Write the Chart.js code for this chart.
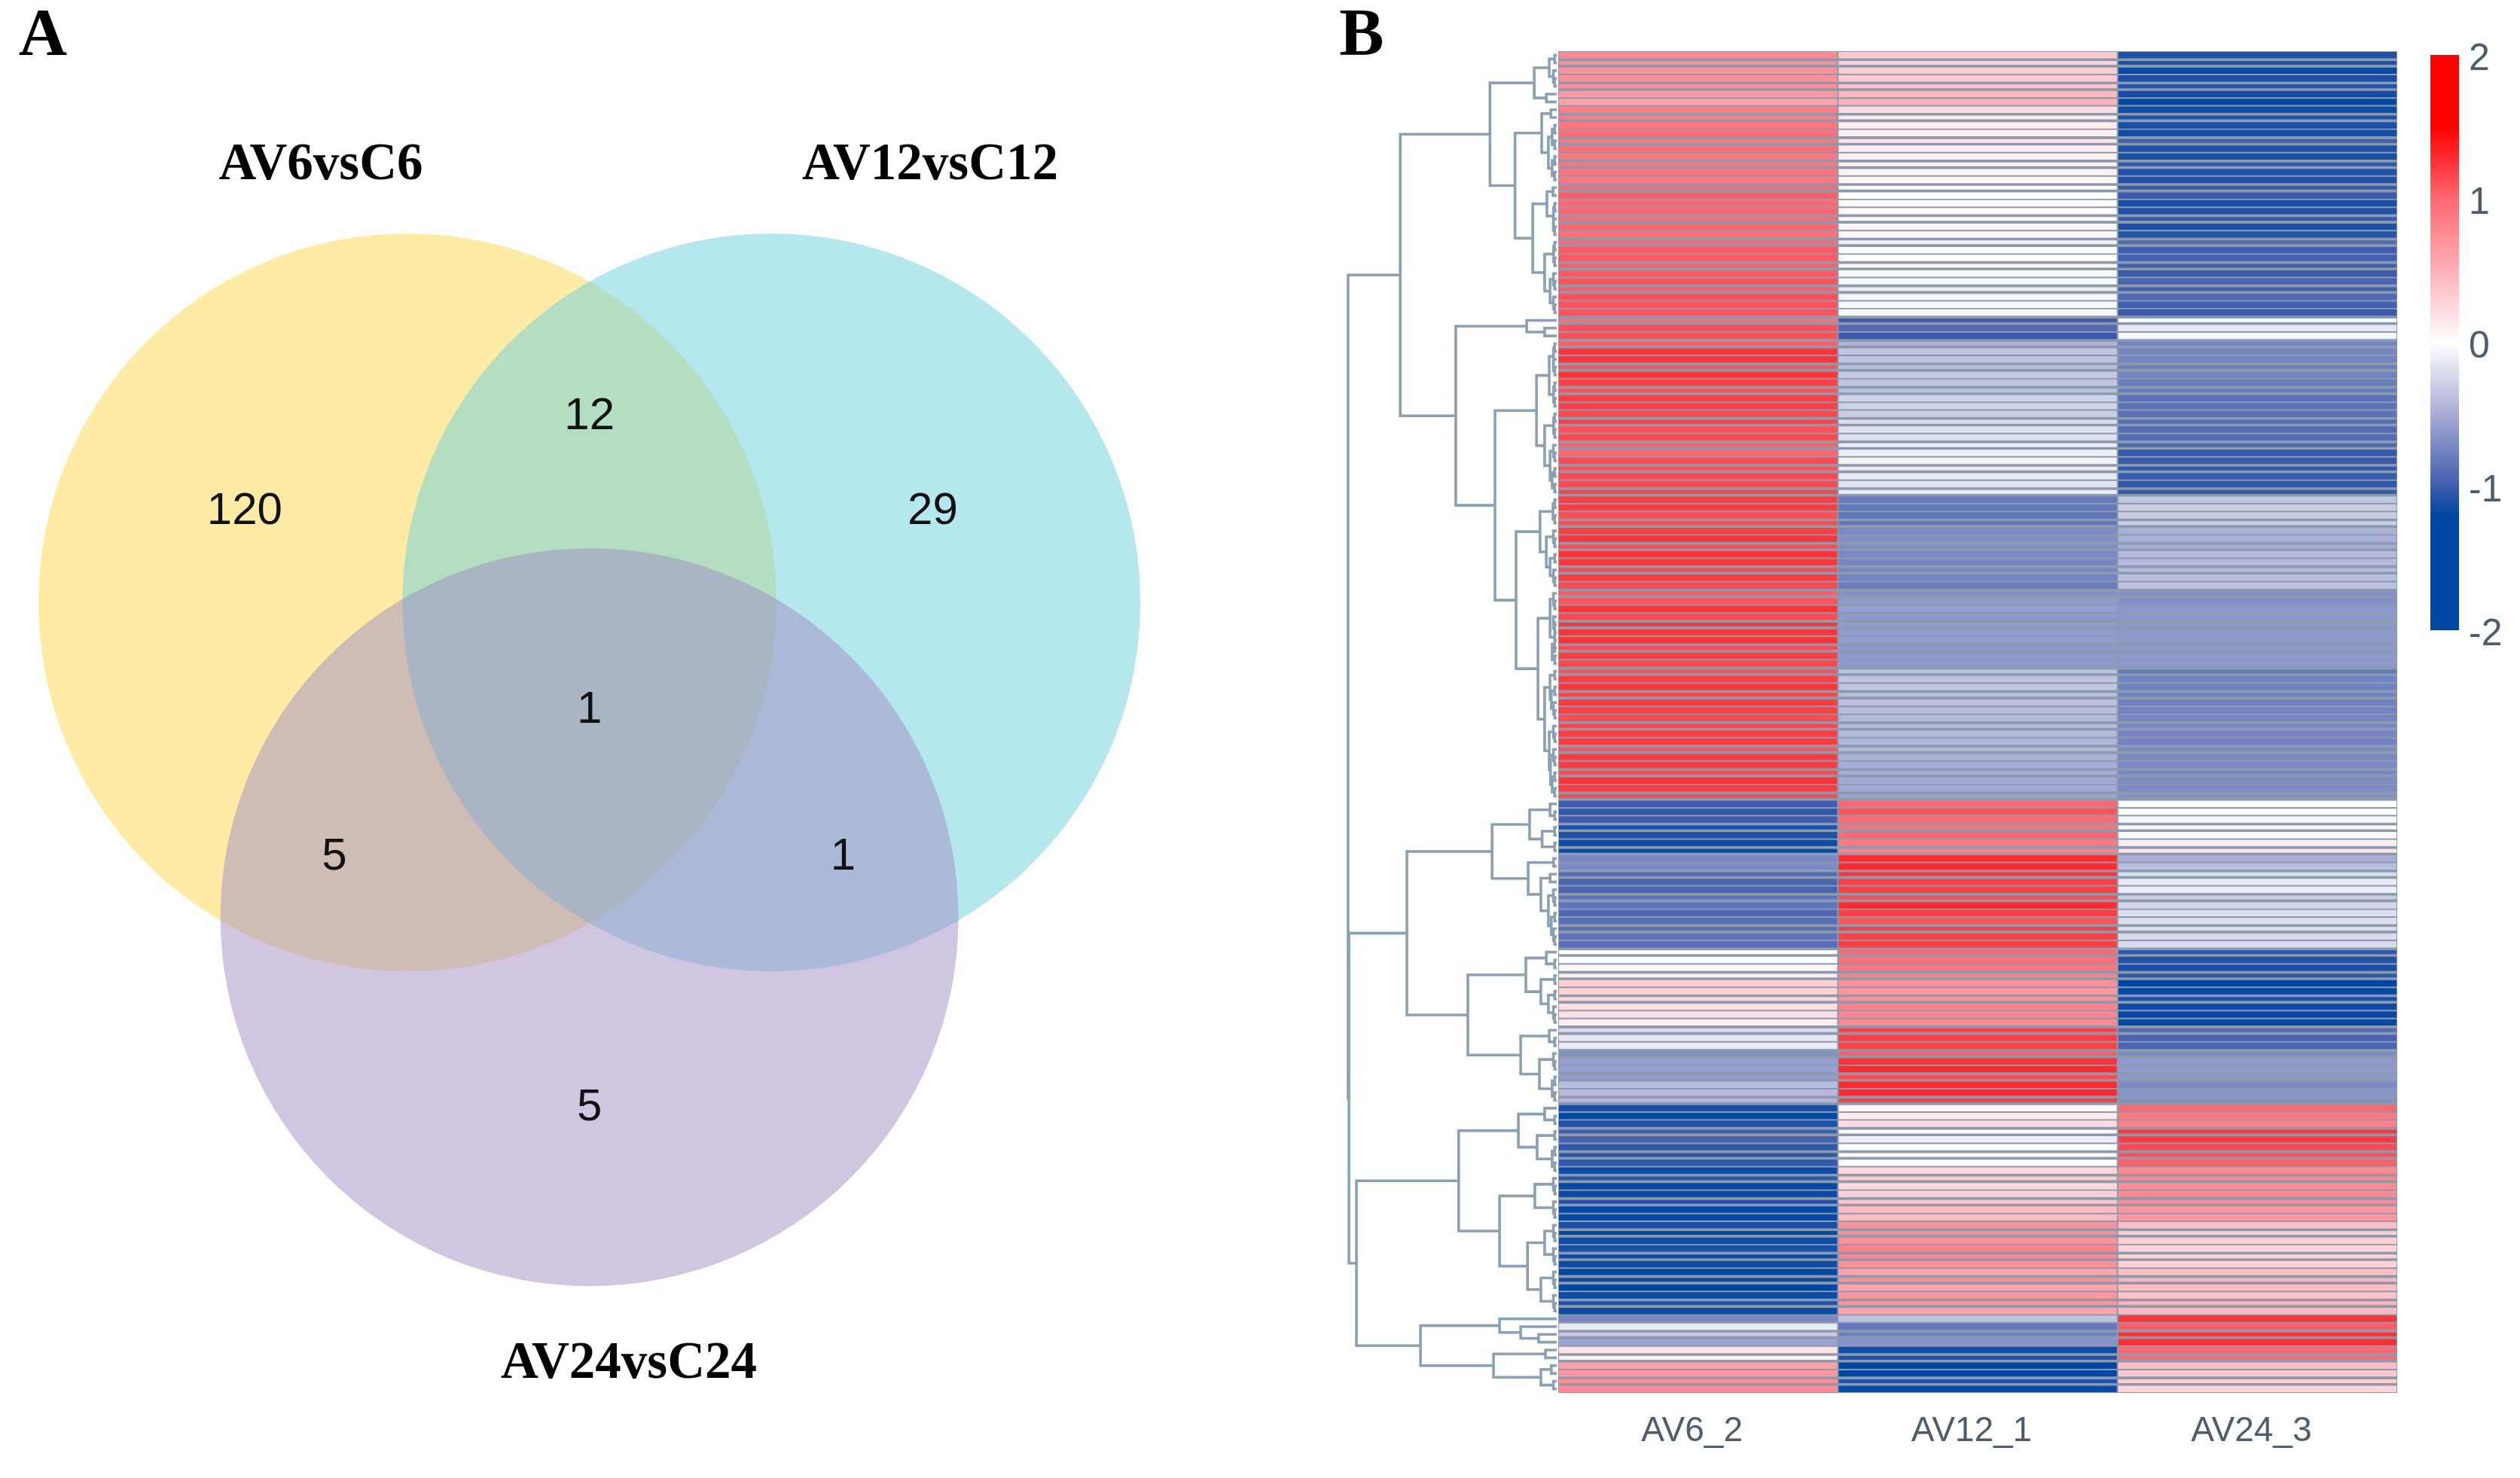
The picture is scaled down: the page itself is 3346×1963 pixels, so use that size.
<!DOCTYPE html>
<html>
<head>
<meta charset="utf-8">
<title>Venn and heatmap</title>
<script src="https://cdn.jsdelivr.net/npm/chart.js@4/dist/chart.umd.min.js"></script>
<style>
  html, body { margin: 0; padding: 0; background: #fff; }
  #page { position: relative; width: 3346px; height: 1963px; overflow: hidden; }
  canvas { position: absolute; }
</style>
</head>
<body>
<div id="page">
  <canvas id="vennChart"></canvas>
  <canvas id="dendroChart"></canvas>
  <canvas id="heatChart"></canvas>
  <canvas id="legendChart"></canvas>
</div>
<script>
// ---- data: venn
const vennSets = ["AV6vsC6", "AV12vsC12", "AV24vsC24"];
const vennX = [-0.493, 0.493, 0];
const vennY = [0, 0, -0.853];
const regionCounts = ["120", "12", "29", "1", "5", "1", "5"];
const regionX = [-0.934, 0, 0.93, 0, -0.691, 0.687, 0];
const regionY = [0.251, 0.508, 0.251, -0.288, -0.686, -0.686, -1.365];

// ---- data: heatmap
const sampleNames = ["AV6_2", "AV12_1", "AV24_3"];
const av6 = [
  0.78, 0.75, 0.72, 0.72, 0.72, 0.66, 0.6,
  0.85, 0.88, 0.92, 0.95, 0.9, 0.95, 0.9, 0.92, 0.92, 0.9,
  1.0, 1.05, 1.0, 1.02, 0.98, 1.0, 0.95, 0.98, 1.07, 1.07, 1.05, 1.07, 1.1, 1.05, 1.12, 1.1, 1.1,
  0.95, 1.12, 1.12, 1.05, 1.25, 1.25, 1.1, 1.25, 1.2, 1.12, 1.2, 1.2, 1.15, 1.2,
  1.12, 1.15, 1.05, 1.0, 1.15, 1.12, 1.15, 1.15, 1.18,
  1.2, 1.2, 1.12, 1.15, 1.2, 1.25, 1.15, 1.25, 1.25, 1.15, 1.22, 1.15,
  1.05, 1.1, 1.25, 1.15, 1.25, 1.25, 1.25, 1.15, 1.2, 1.15,
  1.1, 1.2, 1.25, 1.18, 1.22, 1.2, 1.15, 1.18, 1.2, 1.22, 1.1, 1.22, 1.22, 1.15, 1.25, 1.22, 1.15,
  -1.0, -1.05, -1.0, -1.12, -1.1, -1.15, -1.18, -0.72, -0.7, -0.9, -0.95, -0.95, -0.85, -0.85, -0.92, -0.88, -0.87, -0.85, -0.88,
  0, 0, 0.06, 0.12, 0.3, 0.28, 0.25, 0.2, 0.2, 0.12, -0.22, -0.15, -0.12, -0.68, -0.58, -0.58, -0.6, -0.4, -0.42,
  -0.45,
  -1.12, -1.18, -1.1, -0.98, -0.97, -1.05, -1.05, -1.05, -1.15, -1.05, -1.18, -1.15, -1.1, -1.18, -1.18, -1.12, -1.18, -1.16, -1.12, -1.15, -1.15, -1.2, -1.15, -1.2, -1.16, -1.1, -1.16,
  -0.72, -0.12, -0.33, -0.55, 0.18, 0.08, 0.62, 0.68, 0.75, 0.75
];
const av12 = [
  0.35, 0.3, 0.32, 0.33, 0.38, 0.45, 0.48,
  0.22, 0.15, 0.12, 0.1, 0.18, 0.1, 0.1, 0.08, 0.08, 0.06,
  -0.02, 0, 0.04, 0.03, -0.03, 0.05, 0.05, -0.08, -0.02, 0, -0.03, -0.03, -0.05, -0.1, -0.07, -0.03, -0.04,
  -1.0, -0.92, -1.02,
  -0.45, -0.35, -0.35, -0.4, -0.33, -0.35, -0.38, -0.27, -0.27, -0.3, -0.2,
  -0.18, -0.2, -0.12, -0.1, -0.08, -0.12, -0.12, -0.17, -0.13,
  -0.8, -0.82, -0.85, -0.85, -0.72, -0.68, -0.7, -0.72, -0.74, -0.73, -0.75, -0.8,
  -0.68, -0.62, -0.58, -0.62, -0.6, -0.6, -0.6, -0.62, -0.62, -0.62,
  -0.38, -0.35, -0.35, -0.4, -0.38, -0.4, -0.43, -0.42, -0.43, -0.45, -0.43, -0.47, -0.5, -0.5, -0.52, -0.52, -0.55,
  1.0, 1.1, 1.0, 0.95, 1.0, 0.88, 0.82, 1.3, 1.3, 1.25, 1.2, 1.2, 1.15, 1.3, 1.2, 1.1, 1.22, 1.2, 1.2,
  1.0, 0.95, 0.9, 0.82, 0.72, 0.68, 0.72, 0.82, 0.8, 0.78, 1.2, 1.2, 1.18, 1.05, 1.25, 1.3, 1.15, 1.3, 1.3,
  1.2,
  0.03, 0.12, 0.22, -0.03, -0.1, -0.02, 0, 0, 0.25, 0.32, 0.25, 0.3, 0.35, 0.42, 0.42, 0.7, 0.75, 0.72, 0.82, 0.78, 0.72, 0.6, 0.72, 0.58, 0.68, 0.7, 0.6,
  -0.37, -0.82, -0.78, -0.66, -1.15, -1.1, -1.2, -1.2, -1.1, -1.17
];
const av24 = [
  -1.1, -1.1, -1.18, -1.12, -1.08, -1.14, -1.18,
  -1.16, -1.1, -1.12, -1.14, -1.0, -1.1, -1.12, -1.05, -1.1, -1.1,
  -1.02, -1.02, -1.12, -1.1, -1.02, -1.1, -1.08, -0.9, -1.0, -0.98, -0.98, -1.02, -0.95, -0.98, -0.92, -0.98, -1.02,
  -0.02, -0.13, -0.05,
  -0.75, -0.75, -0.75, -0.78, -0.75, -0.8, -0.8, -0.86, -0.86, -0.86, -0.88,
  -0.9, -0.9, -0.92, -1.03, -1.02, -1.05, -1.02, -1.05, -1.03,
  -0.35, -0.3, -0.3, -0.3, -0.48, -0.47, -0.5, -0.42, -0.42, -0.42, -0.4, -0.38,
  -0.68, -0.68, -0.64, -0.62, -0.64, -0.62, -0.62, -0.62, -0.62, -0.62,
  -0.82, -0.75, -0.76, -0.76, -0.76, -0.75, -0.74, -0.72, -0.74, -0.75, -0.7, -0.72, -0.72, -0.72, -0.7, -0.7, -0.68,
  0, 0, -0.05, 0.05, 0.03, 0.12, 0.17, -0.48, -0.4, -0.2, -0.12, -0.1, -0.3, -0.25, -0.2, -0.2, -0.2, -0.22, -0.22,
  -1.05, -1.1, -1.12, -1.05, -1.2, -1.18, -1.12, -1.16, -1.18, -1.18, -0.9, -0.95, -0.95, -0.7, -0.62, -0.62, -0.62, -0.7, -0.65,
  -0.68,
  1.0, 0.88, 0.85, 1.25, 1.22, 1.15, 1.12, 1.05, 0.78, 0.8, 0.75, 0.78, 0.75, 0.68, 0.68, 0.42, 0.33, 0.3, 0.28, 0.27, 0.3, 0.42, 0.48, 0.42, 0.38, 0.5, 0.45,
  1.25, 1.05, 1.28, 1.28, 1.0, 1.0, 0.42, 0.35, 0.32, 0.28
];
const rowLabels = av6.map((v, i) => "gene" + (i + 1));

// ---- data: row tree, [merge height, upper child, lower child], 0 is a single row
const t2 = [1, 0, 0];
const t3 = [1.6, 0, t2];
const t4 = [2.2, t2, t2];
const t5 = [2.6, t2, t3];
const t7 = [3, t3, t4];
const branchA1 = [32,
  [10.8, [3.6, t2, t3], [5, 0, 0]],
  [20,
    [7.2, [2.8, 0, 0], [4, t4, t4]],
    [11.5, [4.7, [1.8, 0, 0], [1.5, t2, t3]], [5.8, [1.5, t2, t2], [3.2, t3, t3]]]]
];
const branchA2 = [48.4,
  [14.4, 0, [5.8, 0, 0]],
  [29.6,
    [9.7, [3.6, [1.5, t2, t3], [1.5, t2, t2]], [5.8, [1.5, t2, t2], [3.2, t3, t4]]],
    [19.5,
      [8, [1.8, t2, t2], [5, t3, [3.2, t2, t3]]],
      [9, [3.2, t3, [1, t3, t4]], [5.8, [3.2, t2, t5], [3.6, t3, t7]]]]]
];
const branchB = [71.8,
  [31,
    [13, [3.2, 0, t2], [7, t2, t2]],
    [13.7, [1.5, 0, 0], [7.6, [3.2, 0, 0], [4, t3, t5]]]],
  [42.6,
    [14.8, [5, 0, t2], [7.6, t2, [4, t2, t3]]],
    [17.3, [3.6, 0, t2], [8.3, t3, t4]]]
];
const branchC = [47,
  [18.4, [5.8, 0, t2], [9.4, t2, t4]],
  [27.4, [10.5, t3, t3], [14, [5.8, t3, t3], [7.6, t3, t3]]]
];
const branchD = [65.3,
  [27.4, 0, [17.3, 0, [8.7, 0, 0]]],
  [30.3, [5.4, 0, 0], [7.6, [2.6, 0, 0], [1.6, 0, 0]]]
];
const rowTree = [100, [75, branchA1, branchA2], [99.6, branchB, [96, branchC, branchD]]];

// ---- data: colour key
const keyRange = [-2, 2];
const keyValues = [-2, -1.2, -1, -0.5, 0, 0.5, 1, 1.5, 2];
const keyColors = ["#0047a3", "#0047a3", "#3f5cae", "#a8acd6", "#ffffff", "#ffb0b8", "#ff6872", "#ff0000", "#ff0000"];

// ---- styles
const sansFont = "'Liberation Sans', Arial, sans-serif";
const serifFont = "'Liberation Serif', 'Times New Roman', serif";
const slate = "#4c5d6d";
const rowLineColor = "#8b9bab";
const treeColor = "#8aa1b5";
const vennColors = ["rgba(253,215,77,0.5)", "rgba(107,209,221,0.5)", "rgba(161,141,197,0.5)"];

const placeCanvas = (id, left, top, width, height) => {
  const c = document.getElementById(id);
  c.width = width;
  c.height = height;
  c.style.left = left + "px";
  c.style.top = top + "px";
  c.style.width = width + "px";
  c.style.height = height + "px";
  return c;
};

const baseOptions = {
  responsive: false,
  animation: false,
  devicePixelRatio: 1,
  events: [],
  layout: { autoPadding: false, padding: 0 },
  plugins: { legend: { display: false }, tooltip: { enabled: false }, title: { display: false } },
};

const hexToRgb = (hex) => [1, 3, 5].map((i) => parseInt(hex.substr(i, 2), 16));

const valueColor = (v) => {
  for (let i = 1; i < keyValues.length; i++) {
    if (v <= keyValues[i]) {
      const t = (v - keyValues[i - 1]) / (keyValues[i] - keyValues[i - 1]);
      const a = hexToRgb(keyColors[i - 1]);
      const b = hexToRgb(keyColors[i]);
      return `rgb(${a.map((c, k) => Math.round(c + (b[k] - c) * t)).join(",")})`;
    }
  }
  return keyColors[keyColors.length - 1];
};

// the printed figure was resampled, so about every third row comes out thin
const isThinRow = (i) => Math.round(1 + 3.25 * Math.round((i - 1) / 3.25)) === i;

// ---- panel A
const vennText = {
  id: "vennText",
  afterDatasetsDraw(chart) {
    const { ctx, scales } = chart;
    ctx.save();
    ctx.textAlign = "center";
    ctx.textBaseline = "middle";
    ctx.fillStyle = "#000";
    ctx.font = `bold 89px ${serifFont}`;
    ctx.fillText("A", 57, 49);
    ctx.fillText("B", 1808, 49);
    ctx.font = `bold 69px ${serifFont}`;
    ctx.fillText(vennSets[0], 426, 220);
    ctx.fillText(vennSets[1], 1235, 220);
    ctx.fillText(vennSets[2], 835, 1812);
    ctx.fillStyle = "#111";
    ctx.font = `60px ${sansFont}`;
    regionCounts.forEach((label, i) => {
      ctx.fillText(label, scales.x.getPixelForValue(regionX[i]), scales.y.getPixelForValue(regionY[i]) + 2);
    });
    ctx.restore();
  },
};

new Chart(placeCanvas("vennChart", 0, 0, 1900, 1963), {
  type: "bubble",
  data: {
    datasets: [{
      data: vennSets.map((name, i) => ({ x: vennX[i], y: vennY[i], r: 490 })),
      backgroundColor: vennColors,
      borderWidth: 0,
      clip: false,
    }],
  },
  options: {
    ...baseOptions,
    scales: {
      x: { type: "linear", display: false, min: -1.597, max: 2.28 },
      y: { type: "linear", display: false, min: -2.373, max: 1.633 },
    },
  },
  plugins: [vennText],
});

// ---- panel B, tree
let nextRow = 0;
const treePoints = [];
const walkTree = (node) => {
  if (node === 0) {
    nextRow += 1;
    return { h: 0, row: nextRow - 0.5 };
  }
  const a = walkTree(node[1]);
  const b = walkTree(node[2]);
  treePoints.push(
    { x: a.h, y: a.row }, { x: node[0], y: a.row },
    { x: node[0], y: b.row }, { x: b.h, y: b.row },
    { x: NaN, y: NaN }
  );
  return { h: node[0], row: (a.row + b.row) / 2 };
};
walkTree(rowTree);

new Chart(placeCanvas("dendroChart", 1780, 68, 289, 1782), {
  type: "scatter",
  data: {
    datasets: [{
      data: treePoints,
      showLine: true,
      spanGaps: false,
      pointRadius: 0,
      borderColor: treeColor,
      borderWidth: 3.6,
      clip: false,
    }],
  },
  options: {
    ...baseOptions,
    scales: {
      x: { type: "linear", display: false, reverse: true, min: -0.72, max: 103.6 },
      y: { type: "linear", display: false, reverse: true, min: 0, max: av6.length },
    },
  },
});

// ---- panel B, cells
const heatBackdrop = {
  id: "heatBackdrop",
  beforeDatasetsDraw(chart) {
    const { ctx, chartArea: a } = chart;
    ctx.save();
    ctx.fillStyle = rowLineColor;
    ctx.fillRect(a.left, a.top, a.right - a.left, a.bottom - a.top);
    ctx.restore();
  },
};

new Chart(placeCanvas("heatChart", 2069, 68, 1114, 1895), {
  type: "bar",
  data: {
    labels: rowLabels,
    datasets: [av6, av12, av24].map((values, i) => ({
      label: sampleNames[i],
      data: values.map(() => 1),
      backgroundColor: values.map(valueColor),
      borderColor: rowLineColor,
      borderWidth: (ctx) => {
        const edge = isThinRow(ctx.dataIndex) ? 3 : 1.3;
        return { top: edge, bottom: edge, left: 1.3, right: 1.3 };
      },
      borderSkipped: false,
      barPercentage: 1,
      categoryPercentage: 1,
    })),
  },
  options: {
    ...baseOptions,
    indexAxis: "y",
    scales: {
      x: {
        type: "linear",
        stacked: true,
        min: 0,
        max: sampleNames.length,
        grid: { display: false },
        border: { display: false },
        afterFit: (scale) => { scale.height = 113; },
        afterBuildTicks: (scale) => { scale.ticks = sampleNames.map((name, i) => ({ value: i + 0.5 })); },
        ticks: {
          autoSkip: false,
          maxRotation: 0,
          minRotation: 0,
          padding: 16,
          labelOffset: -8,
          color: slate,
          font: { family: sansFont, size: 46 },
          callback: (value) => sampleNames[Math.floor(value)],
        },
      },
      y: { type: "category", display: false, stacked: true },
    },
  },
  plugins: [heatBackdrop],
});

// ---- panel B, colour key
const keyGradient = (ctx) => {
  const { chart } = ctx;
  if (!chart.chartArea) return keyColors[0];
  const scale = chart.scales.y;
  const g = chart.ctx.createLinearGradient(0, scale.getPixelForValue(keyRange[0]), 0, scale.getPixelForValue(keyRange[1]));
  keyValues.forEach((v, i) => g.addColorStop((v - keyRange[0]) / (keyRange[1] - keyRange[0]), keyColors[i]));
  return g;
};

new Chart(placeCanvas("legendChart", 3227, 30, 119, 850), {
  type: "bar",
  data: {
    labels: ["z"],
    datasets: [{
      data: [keyRange],
      backgroundColor: keyGradient,
      barPercentage: 1,
      categoryPercentage: 1,
      borderWidth: 0,
      borderSkipped: false,
    }],
  },
  options: {
    ...baseOptions,
    layout: { autoPadding: false, padding: { top: 43, bottom: 39, left: 0, right: 0 } },
    scales: {
      x: { display: false },
      y: {
        type: "linear",
        position: "right",
        min: keyRange[0],
        max: keyRange[1],
        grid: { display: false, drawTicks: false },
        border: { display: false },
        afterFit: (scale) => { scale.width = 81; },
        ticks: {
          stepSize: 1,
          padding: 13,
          crossAlign: "near",
          labelOffset: 6,
          color: slate,
          font: { family: sansFont, size: 50 },
        },
      },
    },
  },
});
</script>
</body>
</html>
